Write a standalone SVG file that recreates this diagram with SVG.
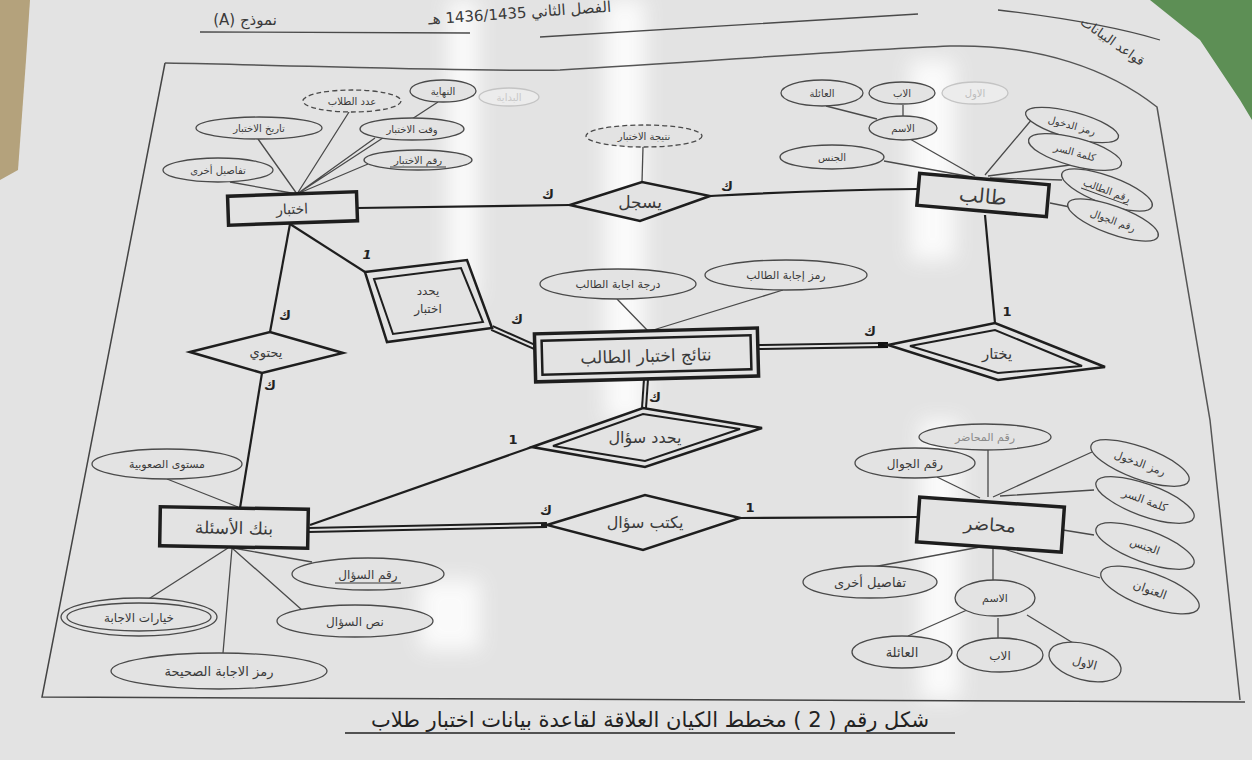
<svg xmlns="http://www.w3.org/2000/svg" width="1252" height="760" viewBox="0 0 1252 760">
<defs>
<filter id="blur" x="-50%" y="-50%" width="200%" height="200%"><feGaussianBlur stdDeviation="10"/></filter>
<style>
.t{font-family:"DejaVu Sans",sans-serif;fill:#3a3a3a;text-anchor:middle}
.f{fill:#e3e3e3}
.ent{fill:#e3e3e3;stroke:#1e1e1e;stroke-width:3.5}
.ent2{fill:none;stroke:#1e1e1e;stroke-width:2.5}
.rel{fill:#e3e3e3;stroke:#1e1e1e;stroke-width:2.5}
.rel2{fill:none;stroke:#1e1e1e;stroke-width:2}
.att{fill:#e3e3e3;stroke:#4a4a4a;stroke-width:1.3}
.dash{stroke-dasharray:5 3}
.faint{stroke:#c4c4c4;fill:#ececec}
.al{stroke:#4a4a4a;stroke-width:1.3;fill:none}
.cl{stroke:#1e1e1e;stroke-width:2.2;fill:none}
.dbo{stroke:#1e1e1e;stroke-width:6;fill:none}
.dbi{stroke:#e3e3e3;stroke-width:2;fill:none}
.ul{stroke:#3a3a3a;stroke-width:1}
.card{font-family:"DejaVu Sans",sans-serif;fill:#222;font-size:13px;font-weight:bold;text-anchor:middle}
</style>
</defs>
<rect width="1252" height="760" fill="#e3e3e3"/>
<polygon points="0,0 30,0 26,60 18,170 0,180" fill="#b4a27c"/>
<polygon points="1150,0 1252,0 1252,120 1240,100 1200,40" fill="#5d8f55"/>
<g id="glare" filter="url(#blur)" opacity="0.85">
<rect x="448" y="0" width="30" height="300" fill="#fff"/>
<rect x="605" y="0" width="40" height="420" fill="#fff"/>
<rect x="910" y="60" width="45" height="200" fill="#fff"/>
<rect x="920" y="420" width="40" height="280" fill="#fff"/>
<rect x="420" y="580" width="60" height="70" fill="#fff"/>
</g>
<g id="page">
<path class="al" d="M200,32 L470,33 M540,37 Q750,24 918,14 M998,10 Q1100,22 1160,40"/>
<path d="M165,63 C330,66 470,72 560,70 C700,62 850,50 950,46 C1040,44 1110,70 1157,107 L1210,420 L1240,700" fill="none" stroke="#555" stroke-width="1.5"/>
<path d="M165,63 L42,697 L1245,702" fill="none" stroke="#444" stroke-width="1.5"/>
<text class="t" x="245" y="25" font-size="15" direction="rtl" unicode-bidi="embed">نموذج (A)</text>
<text class="t" x="520" y="18" font-size="15" transform="rotate(-4 520 18)">الفصل الثاني 1436/1435 هـ</text>
<text class="t" x="1110" y="45" font-size="13" transform="rotate(35 1110 45)">قواعد البيانات</text>
</g>
<g id="connectors">
<path class="cl" d="M357,208 L570,205"/>
<path class="cl" d="M710,196 Q820,190 918,189"/>
<path class="cl" d="M290,224 L270,332"/>
<path class="cl" d="M262,373 L240,508"/>
<path class="cl" d="M290,224 L365,272"/>
<path class="dbo" d="M492,328 L537,348"/><path class="dbi" d="M492,328 L537,348"/>
<path class="dbo" d="M758,347 L888,345"/><path class="dbi" d="M758,347 L878,345"/>
<rect x="878" y="342" width="10" height="6" fill="#111"/>
<path class="cl" d="M985,215 L995,323"/>
<path class="dbo" d="M646,379 L644,408"/><path class="dbi" d="M646,379 L644,408"/>
<path class="cl" d="M310,525 L532,447"/>
<path class="dbo" d="M308,530 L547,525"/><path class="dbi" d="M308,530 L541,525"/>
<path class="cl" d="M740,518 L917,517"/>
<text class="card" x="548" y="199">ك</text>
<text class="card" x="727" y="191">ك</text>
<text class="card" x="285" y="320">ك</text>
<text class="card" x="270" y="390">ك</text>
<text class="card" x="367" y="259" font-style="italic">1</text>
<text class="card" x="517" y="324">ك</text>
<text class="card" x="870" y="336">ك</text>
<text class="card" x="1007" y="316" font-size="15">1</text>
<text class="card" x="655" y="402">ك</text>
<text class="card" x="513" y="444" font-size="15">1</text>
<text class="card" x="546" y="515">ك</text>
<text class="card" x="750" y="512" font-size="15">1</text>
<path class="al" d="M297,194 L258,139 M297,194 L349,112 M297,194 L438,102 M297,194 L375,138 M297,194 L368,164 M297,194 L230,182"/>
<path class="al" d="M975,176 L910,139 M972,177 L884,161 M985,175 L1033,118 M988,176 L1070,165 M990,178 L1062,180 M1050,203 L1070,207 M903,105 L903,117 M877,119 L826,106"/>
<path class="al" d="M643,147 L642,182"/>
<path class="al" d="M617,299 L648,331 M783,290 L650,331"/>
<path class="al" d="M167,479 L238,507 M312,562 L233,548 M302,610 L232,548 M147,600 L228,548 M223,653 L232,548"/>
<path class="al" d="M988,450 L988,497 M937,477 L980,498 M1092,452 L993,497 M1094,490 L1000,496 M1094,535 L1063,530 M1100,578 L997,547 M873,567 L980,547 M993,547 L993,580 M908,636 L967,610 M998,618 L998,638 M1027,615 L1078,646"/>
</g>
<g id="e-exam" transform="rotate(-2 292 208)">
<rect class="ent" x="228" y="194" width="129" height="29"/>
<text class="t" x="292" y="214" font-size="14">اختبار</text>
</g>
<g id="e-student" transform="rotate(5 983 195)">
<rect class="ent" x="918" y="179" width="130" height="32"/>
<text class="t" x="983" y="203" font-size="20">طالب</text>
</g>
<g id="e-results" transform="rotate(-1.5 646 355)">
<rect class="ent" x="535" y="331" width="223" height="48"/>
<rect class="ent2" x="542" y="338" width="209" height="34"/>
<text class="t" x="646" y="362" font-size="17">نتائج اختبار الطالب</text>
</g>
<g id="e-bank" transform="rotate(1 234 527)">
<rect class="ent" x="160" y="508" width="148" height="39"/>
<text class="t" x="234" y="534" font-size="17">بنك الأسئلة</text>
</g>
<g id="e-lecturer" transform="rotate(4 990 524)">
<rect class="ent" x="918" y="502" width="145" height="45"/>
<text class="t" x="990" y="531" font-size="18">محاضر</text>
</g>
<g id="r-records">
<polygon class="rel" points="570,205 642,182 710,196 640,221"/>
<text class="t" x="640" y="208" font-size="17">يسجل</text>
</g>
<g id="r-contains">
<polygon class="rel" points="190,352 270,332 343,353 262,373"/>
<text class="t" x="266" y="357" font-size="13">يحتوي</text>
</g>
<g id="r-defexam">
<polygon class="rel" points="365,272 467,260 492,328 387,342"/>
<polygon class="rel2" points="374,279 461,268 483,322 393,334"/>
<text class="t" x="428" y="295" font-size="12">يحدد</text>
<text class="t" x="428" y="313" font-size="12">اختبار</text>
</g>
<g id="r-defq">
<polygon class="rel" points="532,447 643,408 762,428 645,467"/>
<polygon class="rel2" points="553,446 643,414 740,429 645,461"/>
<text class="t" x="645" y="443" font-size="16">يحدد سؤال</text>
</g>
<g id="r-writes">
<polygon class="rel" points="547,525 645,495 740,518 643,550"/>
<text class="t" x="645" y="528" font-size="16">يكتب سؤال</text>
</g>
<g id="r-chooses">
<polygon class="rel" points="888,345 995,323 1105,367 998,380"/>
<polygon class="rel2" points="910,346 995,330 1082,366 998,373"/>
<text class="t" x="997" y="359" font-size="15">يختار</text>
</g>
<g id="a-exam-date"><ellipse class="att" cx="259" cy="128" rx="63" ry="11"/><text class="t" x="259" y="132" font-size="10">تاريخ الاختبار</text></g>
<g id="a-exam-count"><ellipse class="att dash" cx="352" cy="101" rx="49" ry="11"/><text class="t" x="352" y="105" font-size="10">عدد الطلاب</text></g>
<g id="a-exam-end"><ellipse class="att" cx="443" cy="91" rx="33" ry="11"/><text class="t" x="443" y="95" font-size="10">النهاية</text></g>
<g id="a-exam-start"><ellipse class="att faint" cx="509" cy="97" rx="30" ry="9"/><text class="t" x="509" y="101" font-size="10" style="fill:#c8c8c8">البداية</text></g>
<g id="a-exam-time"><ellipse class="att" cx="412" cy="129" rx="52" ry="11"/><text class="t" x="412" y="133" font-size="10">وقت الاختبار</text></g>
<g id="a-exam-id"><ellipse class="att" cx="418" cy="160" rx="54" ry="10"/><text class="t" x="418" y="164" font-size="10">رقم الاختبار</text><line class="ul" x1="390" y1="167" x2="446" y2="167"/></g>
<g id="a-exam-other"><ellipse class="att" cx="218" cy="170" rx="55" ry="12"/><text class="t" x="218" y="174" font-size="10">تفاصيل أخرى</text></g>
<g id="a-st-family"><ellipse class="att" cx="822" cy="93" rx="41" ry="13"/><text class="t" x="822" y="97" font-size="10">العائلة</text></g>
<g id="a-st-father"><ellipse class="att" cx="902" cy="93" rx="33" ry="11"/><text class="t" x="902" y="97" font-size="10">الاب</text></g>
<g id="a-st-first"><ellipse class="att faint" cx="975" cy="93" rx="33" ry="11"/><text class="t" x="975" y="97" font-size="10" style="fill:#bdbdbd">الاول</text></g>
<g id="a-st-name"><ellipse class="att" cx="903" cy="128" rx="34" ry="12"/><text class="t" x="903" y="132" font-size="10">الاسم</text></g>
<g id="a-st-gender"><ellipse class="att" cx="832" cy="157" rx="52" ry="12"/><text class="t" x="832" y="161" font-size="10">الجنس</text></g>
<g id="a-st-login" transform="rotate(15 1072 125)"><ellipse class="att" cx="1072" cy="125" rx="48" ry="13"/><text class="t" x="1072" y="129" font-size="10">رمز الدخول</text></g>
<g id="a-st-pass" transform="rotate(15 1075 152)"><ellipse class="att" cx="1075" cy="152" rx="48" ry="14"/><text class="t" x="1075" y="156" font-size="10">كلمة السر</text></g>
<g id="a-st-id" transform="rotate(20 1107 190)"><ellipse class="att" cx="1107" cy="190" rx="48" ry="14"/><text class="t" x="1107" y="194" font-size="10">رقم الطالب</text><line class="ul" x1="1082" y1="197" x2="1132" y2="197"/></g>
<g id="a-st-mobile" transform="rotate(20 1113 220)"><ellipse class="att" cx="1113" cy="220" rx="48" ry="14"/><text class="t" x="1113" y="224" font-size="10">رقم الجوال</text></g>
<g id="a-rec-result"><ellipse class="att dash" cx="644" cy="136" rx="58" ry="11"/><text class="t" x="644" y="140" font-size="10">نتيجة الاختبار</text></g>
<g id="a-res-grade"><ellipse class="att" cx="618" cy="284" rx="78" ry="15"/><text class="t" x="618" y="288" font-size="11">درجة اجابة الطالب</text></g>
<g id="a-res-code"><ellipse class="att" cx="786" cy="275" rx="81" ry="15"/><text class="t" x="786" y="279" font-size="11">رمز إجابة الطالب</text></g>
<g id="a-bk-level"><ellipse class="att" cx="167" cy="464" rx="75" ry="15"/><text class="t" x="167" y="468" font-size="11">مستوى الصعوبية</text></g>
<g id="a-bk-id"><ellipse class="att" cx="368" cy="574" rx="76" ry="16"/><text class="t" x="368" y="579" font-size="12">رقم السؤال</text><line class="ul" x1="335" y1="583" x2="401" y2="583"/></g>
<g id="a-bk-text"><ellipse class="att" cx="355" cy="621" rx="78" ry="16"/><text class="t" x="355" y="626" font-size="12">نص السؤال</text></g>
<g id="a-bk-choices"><ellipse class="att" cx="139" cy="617" rx="78" ry="19" stroke-width="2"/><ellipse class="att" cx="139" cy="617" rx="72" ry="14" stroke-width="2"/><text class="t" x="139" y="622" font-size="12">خيارات الاجابة</text></g>
<g id="a-bk-answer"><ellipse class="att" cx="219" cy="671" rx="108" ry="18"/><text class="t" x="219" y="676" font-size="13">رمز الاجابة الصحيحة</text></g>
<g id="a-lc-id"><ellipse class="att" cx="985" cy="437" rx="66" ry="13"/><text class="t" x="985" y="441" font-size="11" style="fill:#8a8a8a">رقم المحاضر</text></g>
<g id="a-lc-mobile"><ellipse class="att" cx="915" cy="463" rx="60" ry="15"/><text class="t" x="915" y="468" font-size="12">رقم الجوال</text></g>
<g id="a-lc-login" transform="rotate(20 1140 463)"><ellipse class="att" cx="1140" cy="463" rx="52" ry="16"/><text class="t" x="1140" y="467" font-size="11">رمز الدخول</text></g>
<g id="a-lc-pass" transform="rotate(20 1145 500)"><ellipse class="att" cx="1145" cy="500" rx="52" ry="16"/><text class="t" x="1145" y="504" font-size="11">كلمة السر</text></g>
<g id="a-lc-gender" transform="rotate(20 1145 546)"><ellipse class="att" cx="1145" cy="546" rx="52" ry="16"/><text class="t" x="1145" y="550" font-size="11">الجنس</text></g>
<g id="a-lc-address" transform="rotate(20 1150 590)"><ellipse class="att" cx="1150" cy="590" rx="52" ry="17"/><text class="t" x="1150" y="594" font-size="12">العنوان</text></g>
<g id="a-lc-other"><ellipse class="att" cx="870" cy="582" rx="67" ry="16"/><text class="t" x="870" y="587" font-size="13">تفاصيل أخرى</text></g>
<g id="a-lc-name"><ellipse class="att" cx="995" cy="598" rx="40" ry="18"/><text class="t" x="995" y="602" font-size="11">الاسم</text></g>
<g id="a-lc-family"><ellipse class="att" cx="902" cy="652" rx="50" ry="16"/><text class="t" x="902" y="657" font-size="13">العائلة</text></g>
<g id="a-lc-father"><ellipse class="att" cx="1000" cy="655" rx="43" ry="17"/><text class="t" x="1000" y="660" font-size="12">الاب</text></g>
<g id="a-lc-first" transform="rotate(15 1085 662)"><ellipse class="att" cx="1085" cy="662" rx="37" ry="18"/><text class="t" x="1085" y="667" font-size="12">الاول</text></g>
<g id="caption">
<text class="t" x="650" y="727" font-size="21" style="fill:#222">شكل رقم ( 2 ) مخطط الكيان العلاقة لقاعدة بيانات اختبار طلاب</text>
<line x1="345" y1="733" x2="955" y2="733" stroke="#222" stroke-width="1.3"/>
</g>
</svg>
